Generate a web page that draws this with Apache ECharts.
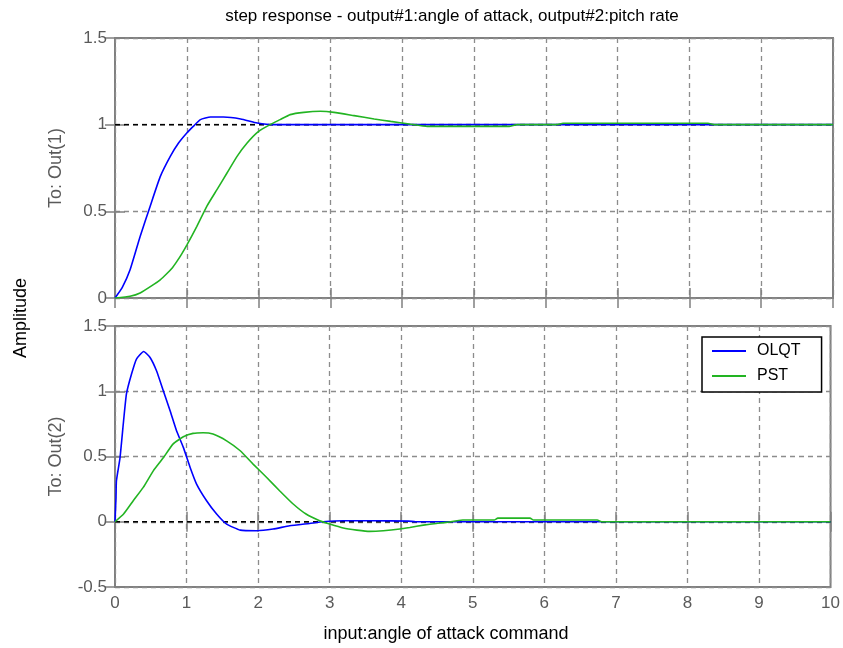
<!DOCTYPE html>
<html>
<head>
<meta charset="utf-8">
<script src="https://cdn.jsdelivr.net/npm/echarts@6/dist/echarts.min.js"></script>
<style>
  html, body { margin: 0; padding: 0; background: #fff; }
  #chart { width: 843px; height: 648px; }
</style>
</head>
<body>
<div id="chart"></div>
<script>
// Step response samples (time in seconds)
const olqtT1 = [0, 0.1, 0.21, 0.35, 0.49, 0.63, 0.77, 0.885, 1.0, 1.09, 1.19, 1.33, 1.51, 1.75, 1.98, 2.21, 2.4, 3, 4, 5, 6, 7, 8, 9, 10];
const olqtOut1 = [0, 0.06, 0.163, 0.355, 0.53, 0.70, 0.817, 0.894, 0.952, 0.99, 1.029, 1.044, 1.044, 1.033, 1.01, 1.0, 1.0, 1.0, 1.0, 1.0, 1.0, 1.0, 1.0, 1.0, 1.0];

const pstT1 = [0, 0.21, 0.35, 0.535, 0.63, 0.72, 0.80, 0.86, 0.93, 1.0, 1.14, 1.28, 1.42, 1.56, 1.70, 1.84, 2.0, 2.16, 2.30, 2.44, 2.63, 2.86, 3.05, 3.33, 3.61, 3.84, 4.1, 4.35, 4.9, 5.49, 5.6, 6.15, 6.24, 7.2, 8.26, 8.35, 9.2, 10];
const pstOut1 = [0, 0.01, 0.029, 0.077, 0.105, 0.14, 0.175, 0.21, 0.255, 0.305, 0.413, 0.53, 0.625, 0.721, 0.817, 0.894, 0.961, 1.0, 1.029, 1.058, 1.071, 1.077, 1.071, 1.052, 1.033, 1.019, 1.004, 0.99, 0.99, 0.99, 1.0, 1.0, 1.008, 1.008, 1.008, 1.0, 1.0, 1.0];

const olqtT2 = [0, 0.014, 0.02, 0.07, 0.12, 0.16, 0.23, 0.30, 0.40, 0.49, 0.58, 0.675, 0.77, 0.86, 0.955, 1.05, 1.14, 1.28, 1.42, 1.56, 1.75, 1.98, 2.21, 2.44, 2.72, 2.91, 3.19, 3.61, 4.1, 4.2, 10];
const olqtOut2 = [0, 0.186, 0.314, 0.49, 0.774, 0.98, 1.13, 1.247, 1.305, 1.259, 1.157, 1.004, 0.85, 0.697, 0.57, 0.416, 0.289, 0.161, 0.059, -0.018, -0.064, -0.069, -0.056, -0.031, -0.013, 0, 0.008, 0.008, 0.005, 0, 0];

const pstT2 = [0, 0.12, 0.255, 0.395, 0.535, 0.675, 0.81, 0.955, 1.09, 1.23, 1.37, 1.56, 1.75, 1.93, 2.12, 2.30, 2.49, 2.67, 2.86, 3.0, 3.19, 3.38, 3.56, 3.75, 3.98, 4.12, 4.31, 4.49, 4.63, 4.86, 5.3, 5.35, 5.8, 5.85, 6.74, 6.8, 10];
const pstOut2 = [0, 0.059, 0.161, 0.263, 0.39, 0.49, 0.595, 0.651, 0.677, 0.682, 0.672, 0.62, 0.544, 0.442, 0.339, 0.238, 0.136, 0.059, 0.008, -0.018, -0.048, -0.064, -0.074, -0.069, -0.056, -0.044, -0.026, -0.013, -0.005, 0.013, 0.013, 0.028, 0.028, 0.013, 0.013, 0, 0];

// Steady-state reference levels per output
const refT = [0, 10];
const refOut1 = [1, 1];
const refOut2 = [0, 0];

const xTicks = [0, 1, 2, 3, 4, 5, 6, 7, 8, 9, 10];

const seriesNames = ['OLQT', 'PST'];
const title = 'step response - output#1:angle of attack, output#2:pitch rate';
const xName = 'input:angle of attack command';
const yNames = ['To: Out(1)', 'To: Out(2)'];
const yCommon = 'Amplitude';

const zip = (t, v) => t.map((x, i) => [x, v[i]]);

const FONT = 'Liberation Sans, Arial, sans-serif';
const GRAY_TEXT = '#5a5a5a';
const gridLine = { show: true, lineStyle: { color: '#8c8c8c', width: 1.3, type: [5, 4] } };
const tick = { show: true, inside: true, length: 10, lineStyle: { color: '#808080', width: 1.5 } };

function xAx(gridIndex, pos, labels) {
  return {
    type: 'value', gridIndex, position: pos, min: 0, max: 10, interval: 1,
    axisLine: { show: false },
    axisTick: tick,
    axisLabel: { show: labels, color: GRAY_TEXT, fontFamily: FONT, fontSize: 17, margin: 8,
      formatter: v => xTicks.includes(v) ? String(v) : '' },
    splitLine: pos === 'bottom' ? gridLine : { show: false }
  };
}
function yAx(gridIndex, pos, min, max, name) {
  return {
    type: 'value', gridIndex, position: pos, min, max, interval: 0.5,
    name: name || '', nameLocation: 'middle', nameGap: 50, nameRotate: 90,
    nameTextStyle: { color: GRAY_TEXT, fontFamily: FONT, fontSize: 18 },
    axisLine: { show: false },
    axisTick: tick,
    axisLabel: { show: pos === 'left', color: GRAY_TEXT, fontFamily: FONT, fontSize: 17, margin: 8 },
    splitLine: pos === 'left' ? gridLine : { show: false }
  };
}

function lineSeries(name, xi, yi, data, color, z) {
  return {
    name, type: 'line', xAxisIndex: xi, yAxisIndex: yi, data,
    symbol: 'none', smooth: 0.15, z, animation: false,
    lineStyle: { color, width: 1.6 }, itemStyle: { color }
  };
}
function refSeries(xi, yi, data) {
  return {
    type: 'line', xAxisIndex: xi, yAxisIndex: yi, data, symbol: 'none', z: 1,
    silent: true, animation: false,
    lineStyle: { color: '#000', width: 1.5, type: [5, 4] }
  };
}

const BLUE = '#0000ff';
const GREEN = '#22b422';

const chart = echarts.init(document.getElementById('chart'), null, { renderer: 'canvas' });
chart.setOption({
  backgroundColor: '#fff',
  animation: false,
  title: {
    text: title, left: 447, textAlign: 'center', top: 3,
    textStyle: { fontFamily: FONT, fontSize: 17, fontWeight: 'normal', color: '#000' }
  },
  grid: [
    { left: 115, top: 38, width: 718, height: 260, show: true, borderColor: '#808080', borderWidth: 2, backgroundColor: '#fff' },
    { left: 115, top: 326, width: 718, height: 261, show: true, borderColor: '#808080', borderWidth: 2, backgroundColor: '#fff' }
  ],
  xAxis: [xAx(0, 'bottom', false), xAx(0, 'top', false), xAx(1, 'bottom', true), xAx(1, 'top', false)],
  yAxis: [yAx(0, 'left', 0, 1.5, yNames[0]), yAx(0, 'right', 0, 1.5), yAx(1, 'left', -0.5, 1.5, yNames[1]), yAx(1, 'right', -0.5, 1.5)],
  legend: {
    data: seriesNames, orient: 'vertical', left: 702, top: 337,
    backgroundColor: '#fff', borderColor: '#000', borderWidth: 1.5, borderRadius: 0,
    padding: [6, 21, 8, 10], itemGap: 9, itemWidth: 34, itemHeight: 2, icon: 'rect',
    textStyle: { fontFamily: FONT, fontSize: 16, color: '#000', padding: [0, 0, 0, 6] }
  },
  graphic: [
    { type: 'text', x: 21, y: 318, rotation: Math.PI / 2,
      style: { text: yCommon, fill: '#000', font: '18px ' + FONT, textAlign: 'center', textVerticalAlign: 'middle' } },
    { type: 'text', x: 446, y: 634,
      style: { text: xName, fill: '#000', font: '18px ' + FONT, textAlign: 'center', textVerticalAlign: 'middle' } }
  ],
  series: [
    refSeries(0, 0, zip(refT, refOut1)),
    refSeries(2, 2, zip(refT, refOut2)),
    lineSeries(seriesNames[0], 0, 0, zip(olqtT1, olqtOut1), BLUE, 3),
    lineSeries(seriesNames[1], 0, 0, zip(pstT1, pstOut1), GREEN, 4),
    lineSeries(seriesNames[0], 2, 2, zip(olqtT2, olqtOut2), BLUE, 3),
    lineSeries(seriesNames[1], 2, 2, zip(pstT2, pstOut2), GREEN, 4)
  ]
});
</script>
</body>
</html>
